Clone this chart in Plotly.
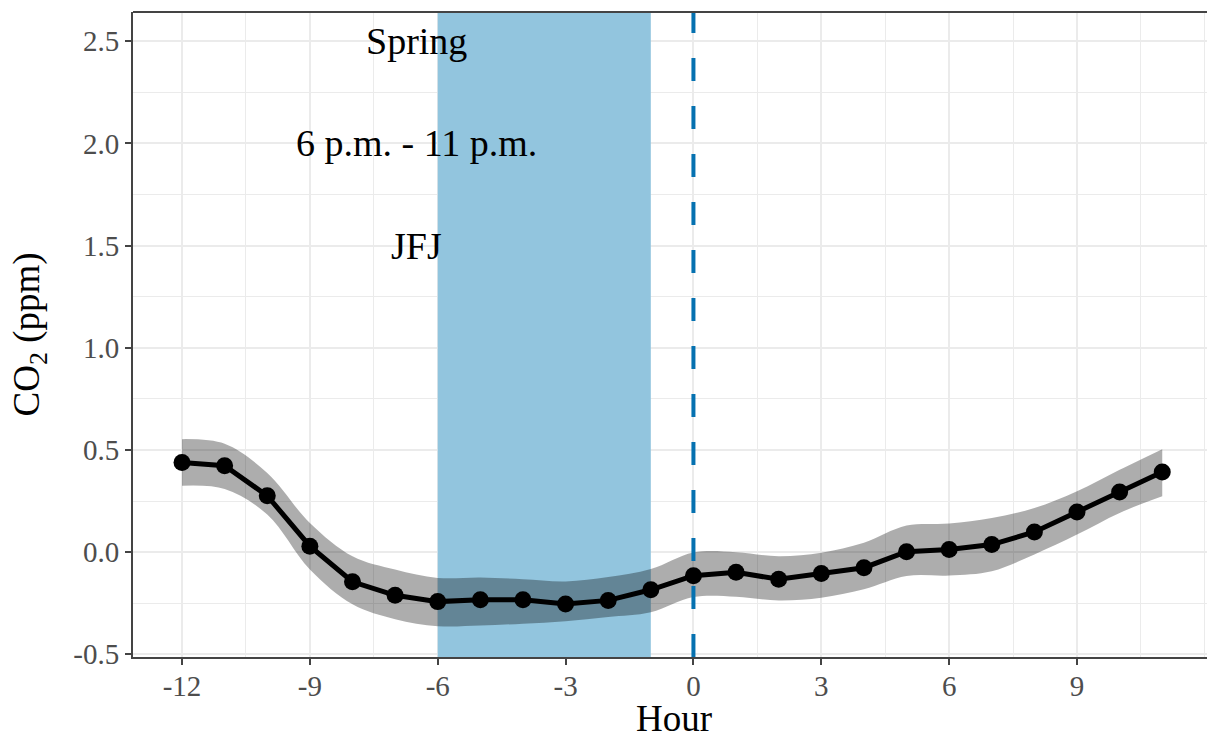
import plotly.graph_objects as go

# Hourly CO2 anomaly composite (JFJ, spring, event window 6 p.m. - 11 p.m.)
hours = list(range(-12, 12))
co2_mean = [0.439, 0.423, 0.276, 0.029, -0.145, -0.211, -0.242, -0.233, -0.233, -0.254,
            -0.236, -0.184, -0.115, -0.098, -0.133, -0.104, -0.076, 0.002, 0.013, 0.037,
            0.099, 0.197, 0.294, 0.392]
ci_upper = [0.553, 0.530, 0.387, 0.143, -0.020, -0.085, -0.126, -0.124, -0.132, -0.143,
            -0.122, -0.083, -0.002, 0.000, -0.020, -0.003, 0.046, 0.130, 0.140, 0.167,
            0.216, 0.298, 0.403, 0.504]
ci_lower = [0.325, 0.309, 0.184, -0.085, -0.255, -0.328, -0.362, -0.359, -0.350, -0.338,
            -0.317, -0.294, -0.220, -0.218, -0.236, -0.223, -0.182, -0.117, -0.114, -0.093,
            -0.011, 0.086, 0.192, 0.273]

window_start, window_end = -6, -1
event_hour = 0

label_x = -6.5
label_texts = ["Spring", "6 p.m. - 11 p.m.", "JFJ"]
label_ys = [2.5, 2.0, 1.5]

x_ticks = [-12, -9, -6, -3, 0, 3, 6, 9]
x_ticklabels = ["-12", "-9", "-6", "-3", "0", "3", "6", "9"]
y_ticks = [-0.5, 0.0, 0.5, 1.0, 1.5, 2.0, 2.5]
y_ticklabels = ["-0.5", "0.0", "0.5", "1.0", "1.5", "2.0", "2.5"]

x_title = "Hour"
y_title = "CO<sub>2</sub> (ppm)"

x_range = [-13.15, 12.05]
y_range = [-0.513, 2.643]

SERIF = "Liberation Serif, Times New Roman, serif"

fig = go.Figure()

# highlighted time window (opaque band covering the grid)
fig.add_trace(go.Scatter(
    x=[window_start, window_end, window_end, window_start, window_start],
    y=[y_range[0], y_range[0], y_range[1], y_range[1], y_range[0]],
    mode="lines", fill="toself", fillcolor="#92C5DE", line=dict(width=0),
    hoverinfo="skip", showlegend=False))

# confidence ribbon
fig.add_trace(go.Scatter(x=hours, y=ci_upper, mode="lines", line=dict(width=0, shape="spline"),
                         hoverinfo="skip", showlegend=False))
fig.add_trace(go.Scatter(x=hours, y=ci_lower, mode="lines", line=dict(width=0, shape="spline"),
                         fill="tonexty", fillcolor="rgba(0,0,0,0.32)",
                         hoverinfo="skip", showlegend=False))

# event hour marker
fig.add_trace(go.Scatter(x=[event_hour, event_hour], y=[y_range[0], y_range[1]], mode="lines",
                         line=dict(color="#0571B0", width=4, dash="23px,25px"),
                         hoverinfo="skip", showlegend=False))

# mean curve
fig.add_trace(go.Scatter(x=hours, y=co2_mean, mode="lines+markers",
                         line=dict(color="black", width=5),
                         marker=dict(color="black", size=17),
                         showlegend=False))

# top frame line
fig.add_shape(type="line", xref="paper", yref="paper", x0=0, x1=1, y0=1, y1=1,
              line=dict(color="#444444", width=2), layer="above")

for txt, yy in zip(label_texts, label_ys):
    fig.add_annotation(x=label_x, y=yy, text=txt, showarrow=False,
                       font=dict(family=SERIF, size=38, color="black"))

# axis titles
fig.add_annotation(xref="paper", yref="paper", x=0.5037, y=-0.131, text=x_title,
                   showarrow=False, xanchor="center", yanchor="bottom",
                   font=dict(family=SERIF, size=37, color="black"))
fig.add_annotation(xref="paper", yref="paper", x=-0.096, y=0.5, text=y_title,
                   showarrow=False, xanchor="center", yanchor="middle", textangle=-90,
                   font=dict(family=SERIF, size=37, color="black"))

axis_common = dict(
    showgrid=True, gridcolor="#EBEBEB", gridwidth=2,
    zeroline=False, showline=True, linecolor="#444444", linewidth=2,
    ticks="outside", ticklen=6, tickwidth=1.5, tickcolor="#444444",
    tickfont=dict(family=SERIF, size=29, color="#4D4D4D"),
    automargin=False,
)

fig.update_xaxes(
    range=x_range, tickmode="array", tickvals=x_ticks, ticktext=x_ticklabels,
    ticklabelstandoff=-4,
    minor=dict(tickmode="linear", tick0=-12, dtick=1.5, showgrid=True, gridcolor="#EBEBEB",
               gridwidth=1.3, ticks=""),
    **axis_common,
)
fig.update_yaxes(
    range=y_range, tickmode="array", tickvals=y_ticks, ticktext=y_ticklabels,
    minor=dict(tickmode="linear", tick0=-0.5, dtick=0.25, showgrid=True, gridcolor="#EBEBEB",
               gridwidth=1.3, ticks=""),
    **axis_common,
)

fig.update_layout(
    width=1207, height=738,
    margin=dict(l=133, r=0, t=12, b=81, pad=0),
    plot_bgcolor="white", paper_bgcolor="white",
    showlegend=False,
)

fig.write_html("out.html")
